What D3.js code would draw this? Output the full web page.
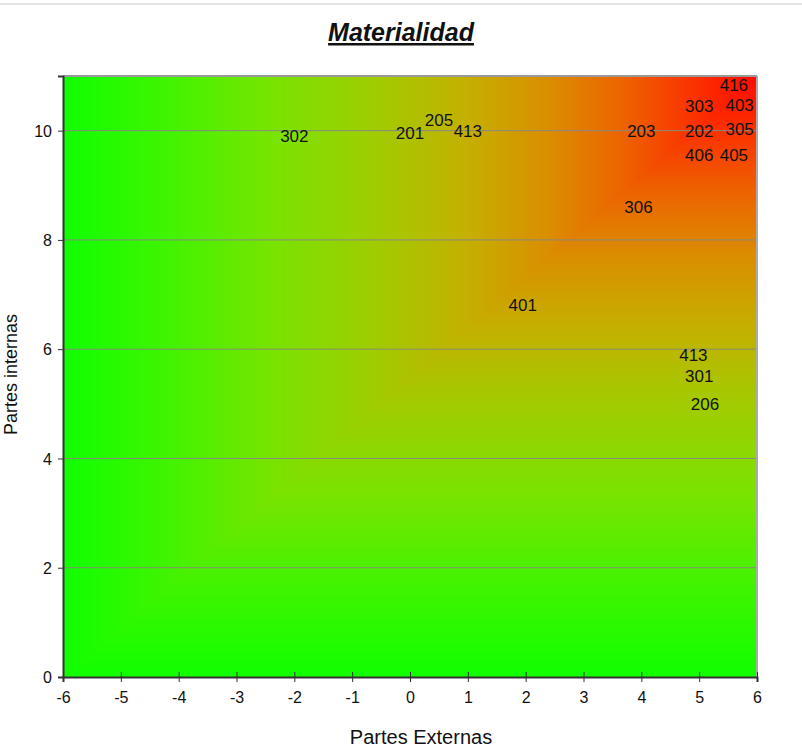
<!DOCTYPE html>
<html>
<head>
<meta charset="utf-8">
<script src="https://cdn.jsdelivr.net/npm/d3@7"></script>
<style>
  body { margin: 0; background: #fff; }
  text { font-family: "Liberation Sans", Arial, sans-serif; }
</style>
</head>
<body>
<svg id="chart" width="802" height="749"></svg>
<script>
// data points (only the labels are drawn, as in the original)
const labels = ["416", "303", "403", "205", "302", "201", "413", "203", "202", "305", "406", "405", "306", "401", "413", "301", "206"];
const externas = [5.6, 5.0, 5.7, 0.5, -2.0, 0.0, 1.0, 4.0, 5.0, 5.7, 5.0, 5.6, 3.95, 1.95, 4.9, 5.0, 5.1];
const internas = [10.83, 10.45, 10.47, 10.2, 9.9, 9.95, 10.0, 10.0, 10.0, 10.02, 9.55, 9.55, 8.6, 6.8, 5.9, 5.5, 5.0];

const xTicks = [-6, -5, -4, -3, -2, -1, 0, 1, 2, 3, 4, 5, 6];
const yTicks = [0, 2, 4, 6, 8, 10];

// background ramp, from the top-right corner outwards
const rampStops = [0, 0.1, 0.2, 0.3, 0.42, 0.55, 0.7, 0.85, 1];
const rampColors = ["#ff0a00", "#fa3600", "#ec6600", "#da8e00", "#c4b000", "#a0cc00", "#78e400", "#40f400", "#10ff00"];

const svg = d3.select("#chart");
const margin = { left: 63, right: 45, top: 76, bottom: 72 };
const width = +svg.attr("width");
const height = +svg.attr("height");
const plotW = width - margin.left - margin.right;
const plotH = height - margin.top - margin.bottom;

const x = d3.scaleLinear().domain([-6, 6]).range([margin.left, margin.left + plotW]);
const y = d3.scaleLinear().domain([0, 11]).range([margin.top + plotH, margin.top]);
const ramp = d3.scaleLinear().domain(rampStops).range(rampColors).clamp(true);

// page border line at the top
svg.append("line")
  .attr("x1", 0).attr("x2", width)
  .attr("y1", 4).attr("y2", 4)
  .attr("stroke", "#e4e4e4").attr("stroke-width", 2);

// corner gradient painted on a canvas
const canvas = document.createElement("canvas");
canvas.width = Math.round(plotW);
canvas.height = Math.round(plotH);
const ctx = canvas.getContext("2d");
const img = ctx.createImageData(canvas.width, canvas.height);
for (let j = 0; j < canvas.height; j++) {
  const v = j / (canvas.height - 1);
  for (let i = 0; i < canvas.width; i++) {
    const u = (canvas.width - 1 - i) / (canvas.width - 1);
    const c = d3.rgb(ramp(Math.max(u, v)));
    const k = (j * canvas.width + i) * 4;
    img.data[k] = c.r;
    img.data[k + 1] = c.g;
    img.data[k + 2] = c.b;
    img.data[k + 3] = 255;
  }
}
ctx.putImageData(img, 0, 0);

svg.append("image")
  .attr("x", margin.left)
  .attr("y", margin.top)
  .attr("width", plotW)
  .attr("height", plotH)
  .attr("preserveAspectRatio", "none")
  .attr("href", canvas.toDataURL());

// grid lines
svg.append("g")
  .selectAll("line")
  .data(yTicks.filter(d => d > 0))
  .join("line")
  .attr("x1", margin.left).attr("x2", margin.left + plotW)
  .attr("y1", d => y(d)).attr("y2", d => y(d))
  .attr("stroke", "#8a8a7a").attr("stroke-width", 1);

// plot frame: top and right gray
svg.append("line")
  .attr("x1", margin.left).attr("x2", margin.left + plotW)
  .attr("y1", margin.top).attr("y2", margin.top)
  .attr("stroke", "#999").attr("stroke-width", 2);
svg.append("line")
  .attr("x1", margin.left + plotW).attr("x2", margin.left + plotW)
  .attr("y1", margin.top).attr("y2", margin.top + plotH)
  .attr("stroke", "#aaa").attr("stroke-width", 2);

// axes
const xAxis = svg.append("g")
  .attr("transform", `translate(0,${margin.top + plotH})`)
  .call(d3.axisBottom(x).tickValues(xTicks).tickSize(5).tickPadding(7).tickFormat(d => String(d)));
xAxis.selectAll(".tick line").attr("y1", -5);

const yAxis = svg.append("g")
  .attr("transform", `translate(${margin.left},0)`)
  .call(d3.axisLeft(y).tickValues(yTicks).tickSize(5).tickPadding(6).tickFormat(d => String(d)));
yAxis.selectAll(".tick line").attr("x1", 0).attr("x2", -5);

[xAxis, yAxis].forEach(a => {
  a.select(".domain").attr("stroke", "#333").attr("stroke-width", 2);
  a.selectAll(".tick line").attr("stroke", "#333");
  a.selectAll(".tick text")
    .attr("fill", "#111")
    .style("font-size", "16px")
    .style("font-family", "'Liberation Sans', Arial, sans-serif");
});
xAxis.selectAll(".tick text").attr("dy", "0.9em");
yAxis.selectAll(".tick text").attr("dy", "0.35em");

// point labels
svg.append("g")
  .selectAll("text")
  .data(labels)
  .join("text")
  .attr("x", (d, i) => x(externas[i]))
  .attr("y", (d, i) => y(internas[i]))
  .attr("text-anchor", "middle")
  .attr("dy", "0.35em")
  .attr("fill", "#111")
  .style("font-size", "17px")
  .text(d => d);

// title
svg.append("text")
  .attr("x", 401)
  .attr("y", 41)
  .attr("text-anchor", "middle")
  .attr("fill", "#111")
  .style("font-size", "25px")
  .style("font-weight", "bold")
  .style("font-style", "italic")
  .style("text-decoration", "underline")
  .text("Materialidad");

// axis titles
svg.append("text")
  .attr("x", x(0) + 11)
  .attr("y", 744)
  .attr("text-anchor", "middle")
  .attr("fill", "#111")
  .style("font-size", "20px")
  .text("Partes Externas");

svg.append("text")
  .attr("transform", `translate(17,${y(5.5) - 2}) rotate(-90)`)
  .attr("text-anchor", "middle")
  .attr("fill", "#111")
  .style("font-size", "18px")
  .text("Partes internas");
</script>
</body>
</html>
